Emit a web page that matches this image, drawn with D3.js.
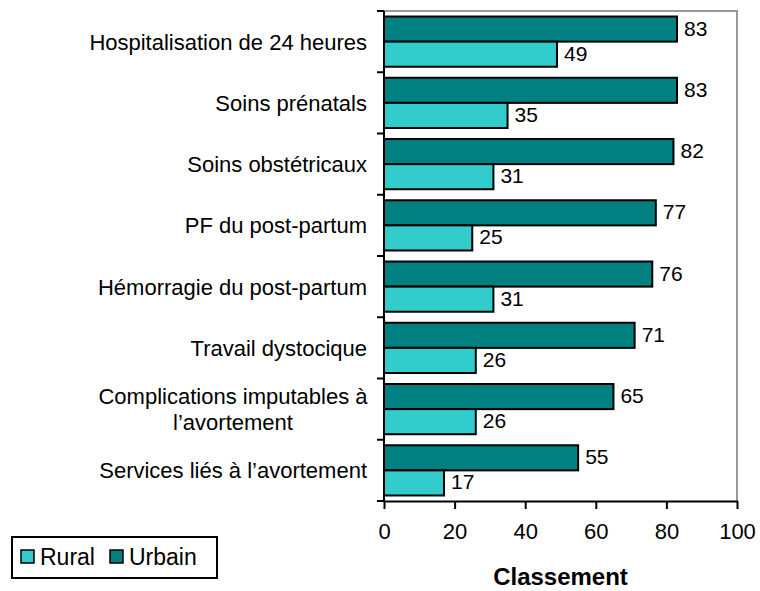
<!DOCTYPE html>
<html>
<head>
<meta charset="utf-8">
<script src="https://cdn.jsdelivr.net/npm/d3@7"></script>
<style>
  body { margin: 0; background: #fff; }
  text { font-family: "Liberation Sans", Arial, sans-serif; fill: #000; }
</style>
</head>
<body>
<script>
var categories = ['Hospitalisation de 24 heures', 'Soins prénatals', 'Soins obstétricaux',
    'PF du post-partum', 'Hémorragie du post-partum', 'Travail dystocique',
    'Complications imputables à\nl\u2019avortement', 'Services liés à l\u2019avortement'];
var urbain = [83, 83, 82, 77, 76, 71, 65, 55];
var rural = [49, 35, 31, 25, 31, 26, 26, 17];
var xTicks = [0, 20, 40, 60, 80, 100];

var width = 760, height = 591;
var pLeft = 384, pRight = 737, pTop = 11, pBottom = 501;

var svg = d3.select('body').append('svg')
    .attr('width', width)
    .attr('height', height);

var xScale = d3.scaleLinear().domain([0, 100]).range([pLeft, pRight]);
var yScale = d3.scaleBand().domain(d3.range(categories.length)).range([pTop, pBottom])
    .paddingInner(0.18).paddingOuter(0.09);
var sub = d3.scaleBand().domain(['u', 'r']).range([0, yScale.bandwidth()]);

// plot frame (top & right gray)
svg.append('path')
    .attr('d', 'M' + pLeft + ',' + pTop + 'H' + pRight + 'V' + pBottom)
    .attr('fill', 'none')
    .attr('stroke', '#999')
    .attr('stroke-width', 2);

var groups = svg.selectAll('g.cat')
    .data(categories)
    .enter().append('g')
    .attr('class', 'cat')
    .attr('transform', (d, i) => 'translate(0,' + yScale(i) + ')');

groups.append('rect')
    .attr('x', pLeft)
    .attr('y', sub('u'))
    .attr('width', (d, i) => xScale(urbain[i]) - pLeft)
    .attr('height', sub.bandwidth())
    .attr('fill', '#008080')
    .attr('stroke', '#000')
    .attr('stroke-width', 2);

groups.append('rect')
    .attr('x', pLeft)
    .attr('y', sub('r'))
    .attr('width', (d, i) => xScale(rural[i]) - pLeft)
    .attr('height', sub.bandwidth())
    .attr('fill', '#33CCCC')
    .attr('stroke', '#000')
    .attr('stroke-width', 2);

groups.append('text')
    .attr('x', (d, i) => xScale(urbain[i]) + 7)
    .attr('y', sub('u') + sub.bandwidth() / 2 - 1)
    .attr('dy', '0.36em')
    .style('font-size', '21px')
    .text((d, i) => urbain[i]);

groups.append('text')
    .attr('x', (d, i) => xScale(rural[i]) + 7)
    .attr('y', sub('r') + sub.bandwidth() / 2 - 1)
    .attr('dy', '0.36em')
    .style('font-size', '21px')
    .text((d, i) => rural[i]);

// category labels
groups.each(function(d) {
    var lines = d.split('\n');
    var t = d3.select(this).append('text')
        .attr('text-anchor', lines.length > 1 ? 'middle' : 'end')
        .style('font-size', '22px');
    var cy = yScale.bandwidth() / 2;
    lines.forEach(function(l, k) {
        t.append('tspan')
            .attr('x', lines.length > 1 ? 233 : 367)
            .attr('y', cy + (k - (lines.length - 1) / 2) * 26)
            .attr('dy', '0.36em')
            .text(l);
    });
});

// left axis with category separators
var sep = d3.range(categories.length + 1).map(i => pTop + i * (pBottom - pTop) / categories.length);
svg.append('line')
    .attr('x1', pLeft).attr('x2', pLeft)
    .attr('y1', pTop).attr('y2', pBottom)
    .attr('stroke', '#000').attr('stroke-width', 2);
svg.selectAll('line.sep')
    .data(sep)
    .enter().append('line')
    .attr('class', 'sep')
    .attr('x1', pLeft - 7).attr('x2', pLeft)
    .attr('y1', d => d).attr('y2', d => d)
    .attr('stroke', '#000').attr('stroke-width', 2);

// bottom axis
var xAxis = svg.append('g')
    .attr('transform', 'translate(0,' + pBottom + ')')
    .call(d3.axisBottom(xScale).tickValues(xTicks).tickSize(8).tickPadding(14).tickSizeOuter(0));
xAxis.select('.domain').attr('stroke', '#000').attr('stroke-width', 2);
xAxis.selectAll('.tick line').attr('stroke', '#000').attr('stroke-width', 2);
xAxis.selectAll('.tick text')
    .style('font-size', '22px')
    .style('font-family', '"Liberation Sans", Arial, sans-serif')
    .attr('fill', '#000');

svg.append('text')
    .attr('x', (pLeft + pRight) / 2)
    .attr('y', 585)
    .attr('text-anchor', 'middle')
    .style('font-size', '24px')
    .style('font-weight', 'bold')
    .text('Classement');

// legend
var legend = svg.append('g');
legend.append('rect')
    .attr('x', 12).attr('y', 537)
    .attr('width', 205).attr('height', 41)
    .attr('fill', '#fff')
    .attr('stroke', '#000')
    .attr('stroke-width', 2);
var items = [['Rural', '#33CCCC', 21], ['Urbain', '#008080', 110]];
items.forEach(function(it) {
    legend.append('rect')
        .attr('x', it[2]).attr('y', 550)
        .attr('width', 13).attr('height', 13)
        .attr('fill', it[1])
        .attr('stroke', '#000')
        .attr('stroke-width', 1.5);
    legend.append('text')
        .attr('x', it[2] + 19).attr('y', 565)
        .style('font-size', '23px')
        .text(it[0]);
});
</script>
</body>
</html>
